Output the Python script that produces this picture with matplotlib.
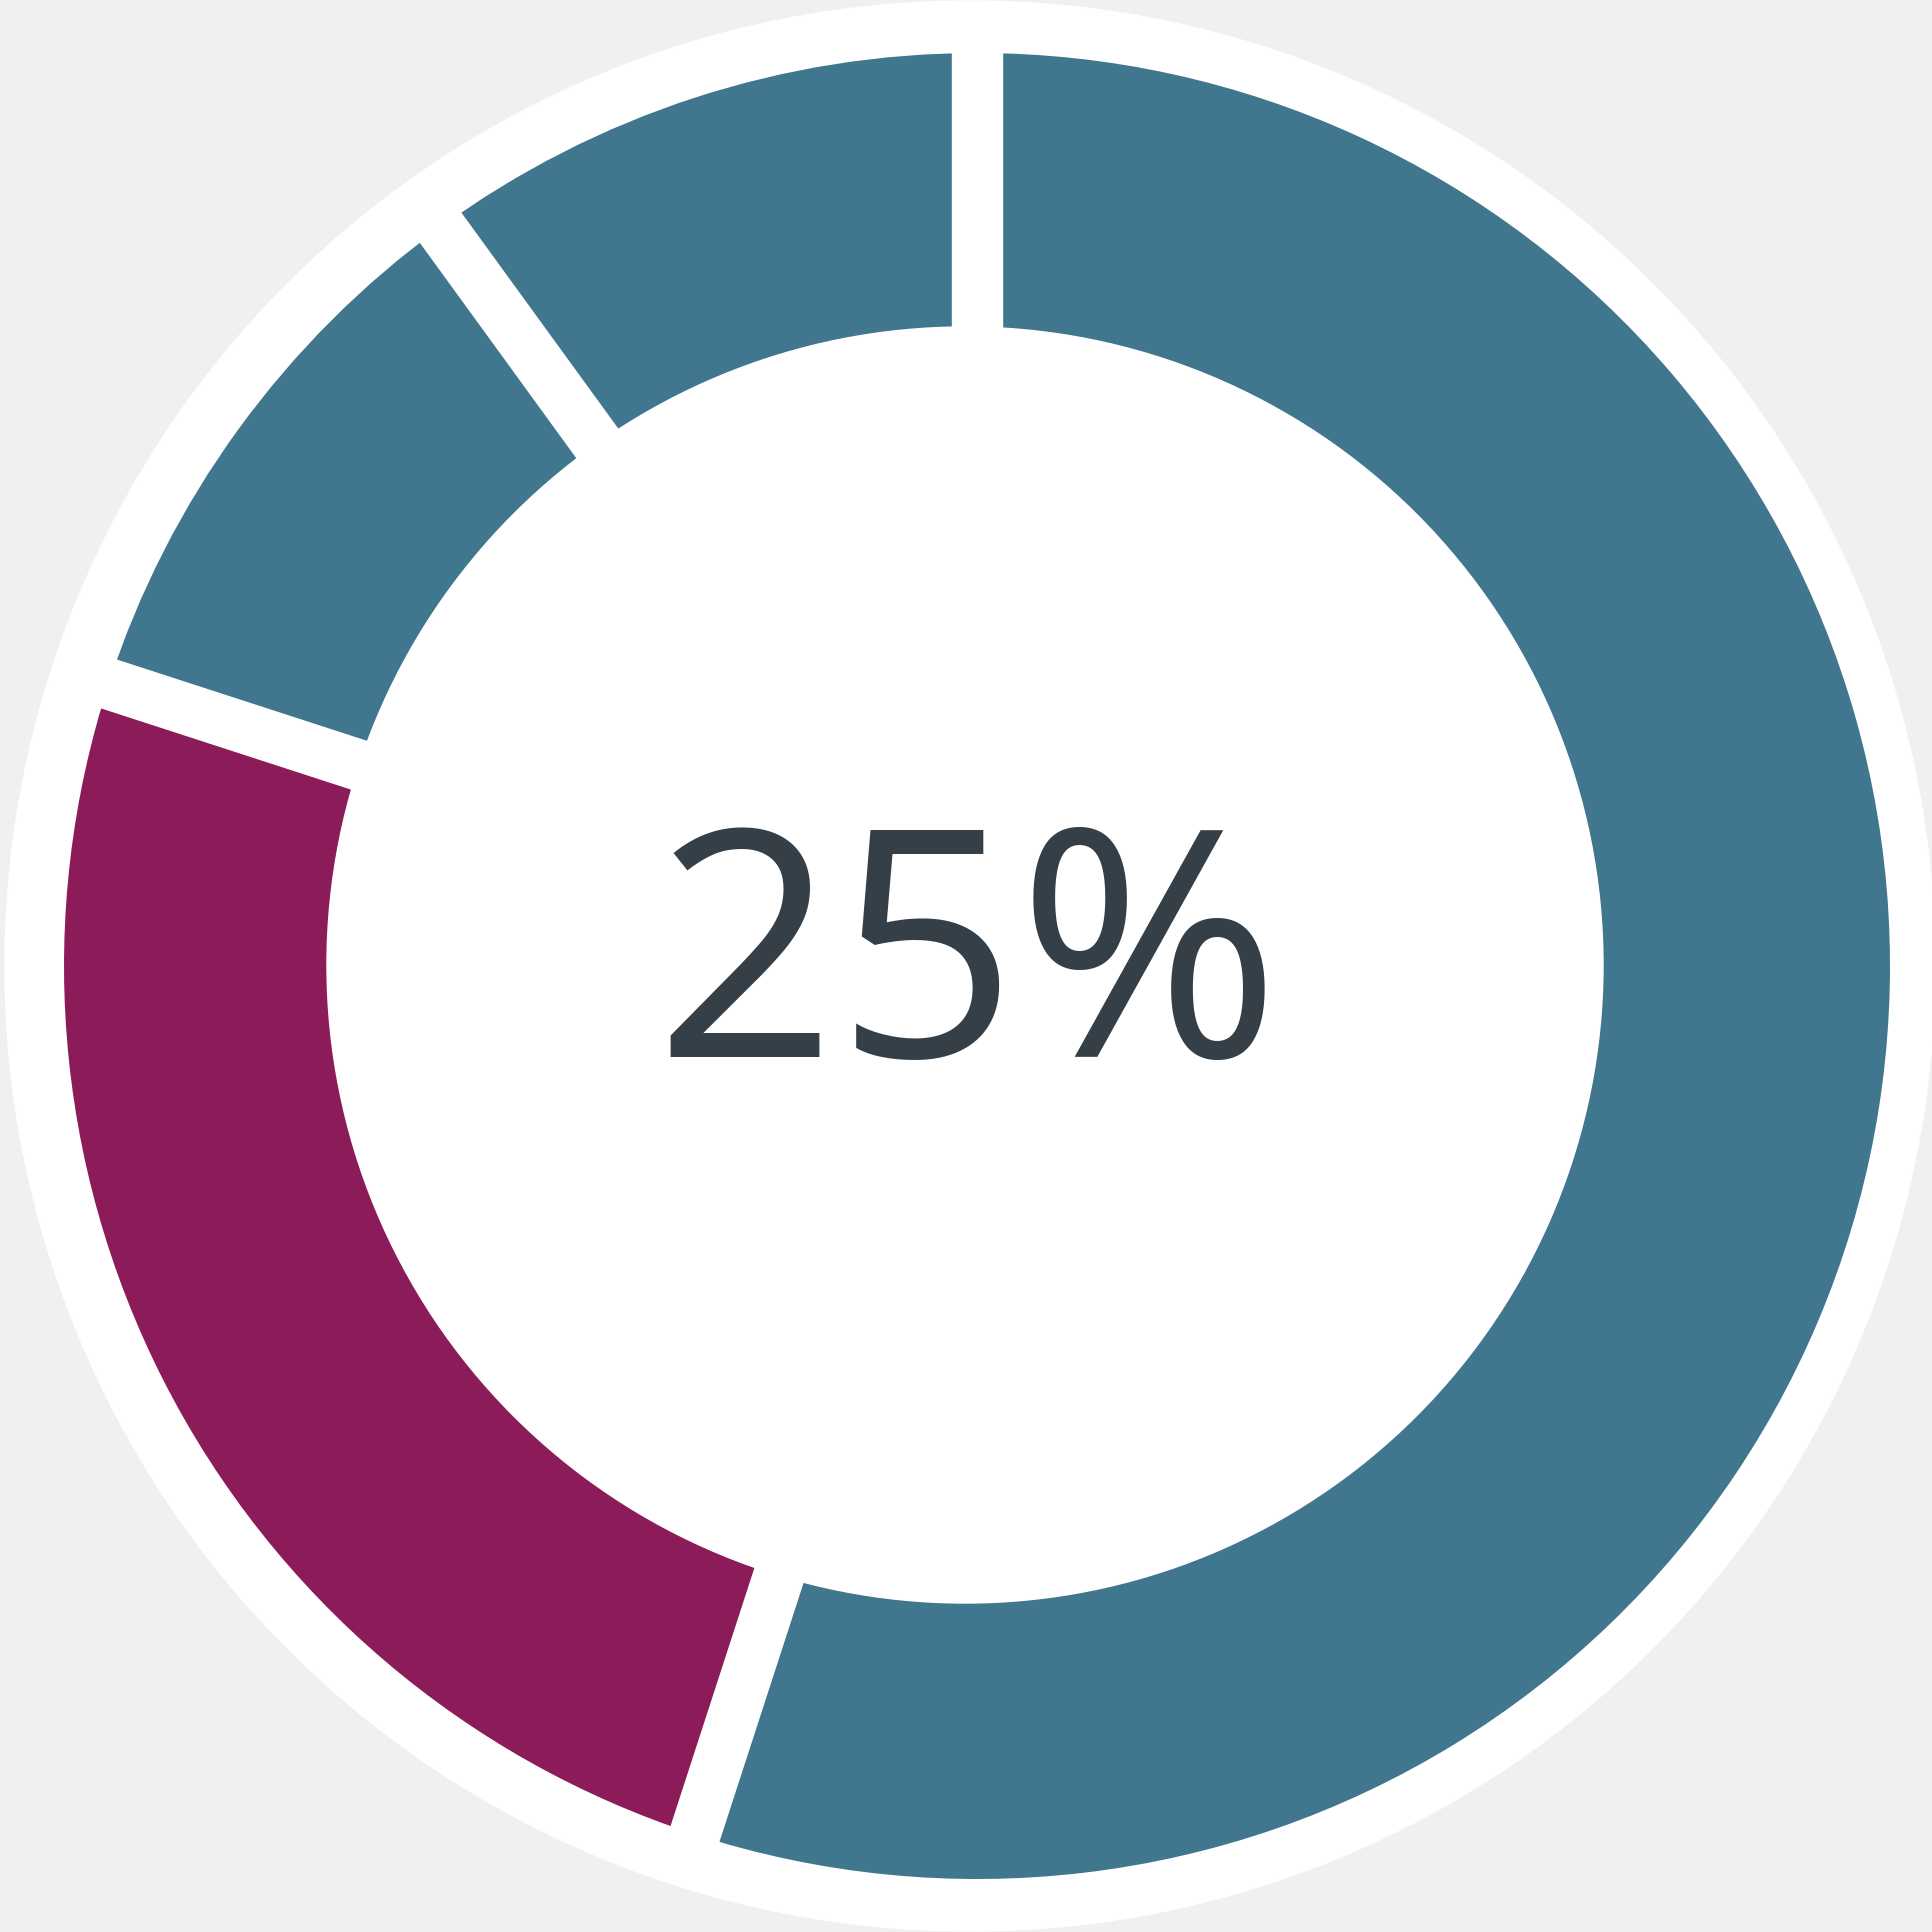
import matplotlib
matplotlib.use("Agg")
import matplotlib.pyplot as plt
from matplotlib.patches import Circle, Polygon
import numpy as np

# share of each ring segment, clockwise from 12 o'clock
values = [55, 25, 10, 10]
colors = ["#41768f", "#8b1c59", "#41768f", "#41768f"]
label = "25%"

W = 1932
fig = plt.figure(figsize=(19.32, 19.32), dpi=100, facecolor="#f0f0f0")
ax = fig.add_axes([0, 0, 1, 1])

# white backing disc
ax.add_patch(Circle((970, W - 966), 965, color="white", zorder=0))

cx, cy = 977, W - 966
ax.pie(values, colors=colors, startangle=90, counterclock=False,
       center=(cx, cy), radius=913, wedgeprops=dict(linewidth=0))

# white gaps between segments
bounds = np.cumsum([0] + values[:-1]) / sum(values) * 360
half = 25
for b in bounds:
    r = np.radians(b)
    d = np.array([np.sin(r), np.cos(r)])
    n = np.array([d[1], -d[0]])
    c = np.array([cx, cy])
    pts = [c + n * half, c + n * half + d * 940, c - n * half + d * 940, c - n * half]
    ax.add_patch(Polygon(pts, closed=True, color="white", zorder=3))

# hole
ax.add_patch(Circle((965, W - 965), 638, color="white", zorder=4))

ax.text(968, W - 1057, label, ha="center", va="baseline", fontsize=229,
        fontweight="medium", color="#343f48",
        family=["Open Sans", "DejaVu Sans"], zorder=5)

ax.set_xlim(0, W)
ax.set_ylim(0, W)
ax.set_aspect("equal")
ax.axis("off")
fig.savefig("out.png", dpi=100, facecolor=fig.get_facecolor())
